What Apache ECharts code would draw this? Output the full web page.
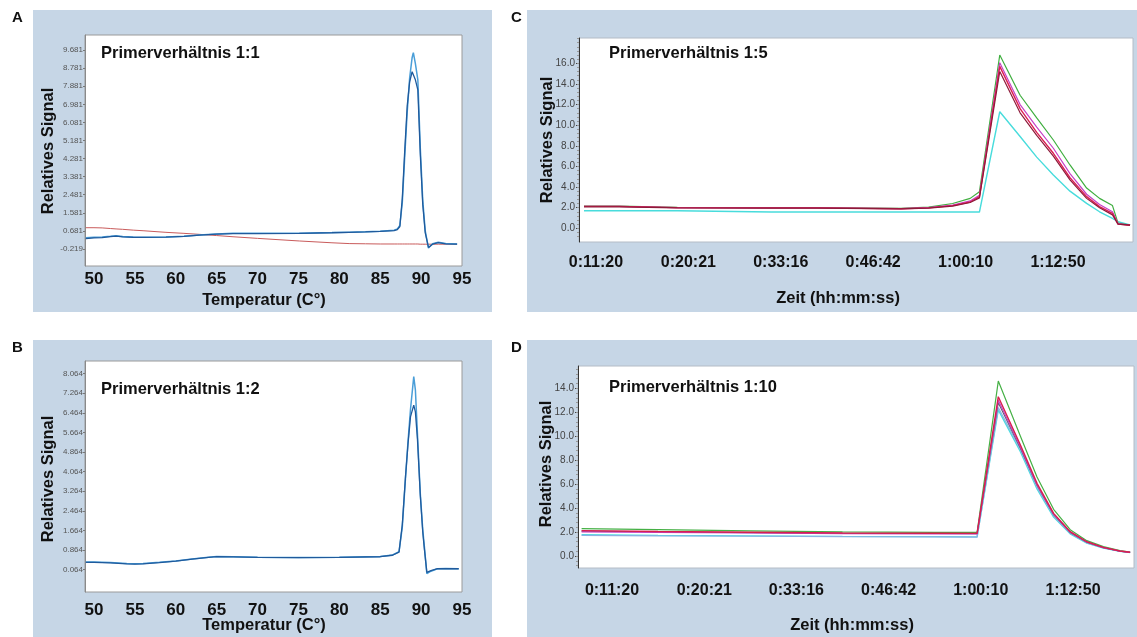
<!DOCTYPE html>
<html>
<head>
<meta charset="utf-8">
<script src="https://cdn.jsdelivr.net/npm/echarts@6/dist/echarts.min.js"></script>
<style>html,body{margin:0;padding:0;background:#fff}#c{width:1137px;height:637px}</style>
</head>
<body>
<div id="c"></div>
<script>
// ---------- Panel A: Primerverhältnis 1:1 (melt curve) ----------
const tempA = [49.0, 50, 51, 52, 52.7, 53.5, 54.8, 56, 58.8, 61, 62.9, 65, 67, 70, 75.1, 79.1, 81.2, 83.2, 85, 86.7, 87.1, 87.4, 87.7, 88.0, 88.3, 88.6, 88.9, 89.05, 89.3, 89.6, 89.9, 90.2, 90.5, 90.9, 91.4, 92.1, 93, 94.4];
const blueA1 = [0.34, 0.36, 0.38, 0.41, 0.44, 0.40, 0.38, 0.37, 0.38, 0.42, 0.48, 0.53, 0.56, 0.56, 0.57, 0.60, 0.62, 0.64, 0.67, 0.72, 0.78, 0.95, 2.1, 4.4, 6.6, 8.3, 9.3, 9.55, 9.0, 8.2, 4.8, 2.2, 0.7, -0.17, 0.04, 0.12, 0.06, 0.03];
const blueA2 = [0.30, 0.33, 0.35, 0.40, 0.42, 0.38, 0.36, 0.36, 0.37, 0.41, 0.47, 0.52, 0.55, 0.55, 0.56, 0.59, 0.61, 0.63, 0.66, 0.70, 0.75, 0.90, 2.3, 4.7, 6.9, 8.1, 8.6, 8.55, 8.2, 7.7, 4.5, 2.0, 0.6, -0.14, 0.02, 0.10, 0.04, 0.02];
const redA   = [0.84, 0.84, 0.83, 0.80, 0.78, 0.76, 0.72, 0.69, 0.61, 0.56, 0.51, 0.45, 0.39, 0.31, 0.18, 0.09, 0.05, 0.04, 0.03, 0.03, 0.03, 0.03, 0.03, 0.03, 0.03, 0.03, 0.03, 0.03, 0.03, 0.03, 0.02, 0.02, 0.02, 0.02, 0.02, 0.02, 0.02, 0.02];
const yTicksA = [-0.219, 0.681, 1.581, 2.481, 3.381, 4.281, 5.181, 6.081, 6.981, 7.881, 8.781, 9.681];

// ---------- Panel B: Primerverhältnis 1:2 ----------
const tempB = [49.0, 50, 52, 54, 55, 56, 58, 60, 62, 64, 65, 67, 70, 75, 80, 85, 86.5, 87.3, 87.7, 88.1, 88.4, 88.7, 89.1, 89.3, 89.55, 89.9, 90.2, 90.4, 90.7, 91.2, 92, 93, 94.6];
const blueB1 = [0.37, 0.37, 0.35, 0.31, 0.30, 0.31, 0.36, 0.42, 0.50, 0.57, 0.60, 0.59, 0.57, 0.56, 0.57, 0.60, 0.66, 0.80, 1.8, 3.85, 5.3, 6.6, 7.94, 7.4, 5.62, 3.17, 1.7, 1.0, -0.10, 0.0, 0.10, 0.11, 0.10];
const blueB2 = [0.36, 0.36, 0.34, 0.30, 0.29, 0.30, 0.35, 0.41, 0.49, 0.56, 0.59, 0.58, 0.56, 0.55, 0.56, 0.59, 0.65, 0.78, 1.9, 3.9, 5.2, 6.3, 6.78, 6.5, 5.4, 3.1, 1.6, 0.9, -0.05, 0.02, 0.10, 0.10, 0.10];
const yTicksB = [0.064, 0.864, 1.664, 2.464, 3.264, 4.064, 4.864, 5.664, 6.464, 7.264, 8.064];

const tempTicks = [50, 55, 60, 65, 70, 75, 80, 85, 90, 95];

// ---------- Panel C: Primerverhältnis 1:5 (x in tick-label positions) ----------
const timeLabels = ['0:11:20', '0:20:21', '0:33:16', '0:46:42', '1:00:10', '1:12:50'];
const posC = [-0.13, 0.25, 0.27, 0.88, 0.90, 1.9, 2.40, 2.42, 3.3, 3.6, 3.86, 4.05, 4.15, 4.37, 4.59, 4.77, 4.95, 5.13, 5.31, 5.45, 5.59, 5.65, 5.78];
const greenC   = [2.15, 2.15, 2.03, 2.02, 2.02, 2.0, 2.0, 1.93, 1.93, 2.05, 2.4, 2.9, 3.55, 16.8, 12.9, 10.7, 8.56, 6.14, 3.9, 2.9, 2.2, 0.5, 0.3];
const magentaC = [2.12, 2.12, 2.0, 2.0, 2.0, 1.98, 1.98, 1.9, 1.9, 2.0, 2.25, 2.65, 3.2, 16.06, 12.0, 9.8, 7.76, 5.3, 3.3, 2.3, 1.6, 0.45, 0.3];
const redC     = [2.12, 2.12, 2.0, 2.0, 2.0, 1.98, 1.98, 1.9, 1.9, 1.98, 2.2, 2.55, 3.07, 15.7, 11.6, 9.3, 7.27, 4.9, 3.07, 2.1, 1.45, 0.4, 0.3];
const darkredC = [2.08, 2.08, 1.97, 1.97, 1.97, 1.95, 1.95, 1.88, 1.88, 1.95, 2.15, 2.5, 2.95, 15.2, 11.2, 9.0, 7.0, 4.7, 2.9, 2.0, 1.3, 0.4, 0.3];
const cyanC    = [1.70, 1.70, 1.70, 1.70, 1.58, 1.58, 1.58, 1.58, 1.58, 1.58, 1.58, 1.58, 1.58, 11.3, 8.9, 6.9, 5.17, 3.6, 2.42, 1.6, 0.95, 0.64, 0.32];
const yTicksC = [0, 2, 4, 6, 8, 10, 12, 14, 16];

// ---------- Panel D: Primerverhältnis 1:10 ----------
const posD = [-0.33, 0.5, 1.5, 2.5, 3.5, 3.96, 4.19, 4.43, 4.61, 4.79, 4.97, 5.15, 5.33, 5.51, 5.62];
const greenD     = [2.28, 2.2, 2.1, 2.02, 1.98, 1.97, 14.6, 10.0, 6.6, 3.9, 2.2, 1.28, 0.78, 0.45, 0.33];
const redD       = [2.12, 2.05, 1.98, 1.92, 1.90, 1.89, 13.3, 9.27, 6.07, 3.56, 2.03, 1.19, 0.72, 0.42, 0.31];
const magentaD   = [2.02, 1.97, 1.92, 1.87, 1.85, 1.84, 13.0, 9.1, 5.95, 3.5, 2.0, 1.17, 0.70, 0.41, 0.30];
const grayD      = [2.08, 2.02, 1.95, 1.90, 1.88, 1.87, 12.8, 9.0, 5.9, 3.45, 1.97, 1.15, 0.69, 0.40, 0.30];
const lightblueD = [1.72, 1.68, 1.65, 1.62, 1.60, 1.58, 12.4, 8.9, 5.75, 3.35, 1.9, 1.10, 0.67, 0.40, 0.30];
const cyanD      = [1.78, 1.72, 1.68, 1.64, 1.62, 1.60, 12.2, 8.7, 5.6, 3.25, 1.85, 1.08, 0.66, 0.39, 0.29];
const yTicksD = [0, 2, 4, 6, 8, 10, 12, 14];

// ---------- helpers ----------
const FONT = '"Liberation Sans", Arial, sans-serif';
const zip = (xs, ys) => xs.map((x, i) => [x, ys[i]]);
const steps = (a, b, s) => { const r = []; for (let v = a; v <= b + 1e-9; v += s) r.push(+v.toFixed(3)); return r; };
const BG = '#c6d6e6';

function txt(text, x, y, size, opts) {
  opts = opts || {};
  return {
    type: 'text', x: x, y: y, z: 50, rotation: opts.rot || 0,
    style: {
      text: text, x: 0, y: 0, fill: '#111',
      font: 'bold ' + size + 'px ' + FONT,
      textAlign: opts.align || 'left', align: opts.align || 'left',
      textVerticalAlign: opts.va || 'middle', verticalAlign: opts.va || 'middle'
    }
  };
}
function rect(x, y, w, h) {
  return { type: 'rect', z: -10, shape: { x: x, y: y, width: w, height: h }, style: { fill: BG } };
}
function line(name, xi, yi, data, color, width) {
  return { name: name, type: 'line', xAxisIndex: xi, yAxisIndex: yi, data: data, showSymbol: false, symbol: 'none',
    lineStyle: { color: color, width: width || 1.3 }, itemStyle: { color: color }, silent: true };
}

function tempXAxis(grid, margin) {
  return { type: 'value', gridIndex: grid, min: 48.9, max: 95, position: 'bottom',
    axisLine: { show: false, onZero: false }, axisTick: { show: false }, splitLine: { show: false },
    axisLabel: { customValues: tempTicks, margin: margin, color: '#111', fontFamily: FONT, fontWeight: 'bold', fontSize: 17,
      formatter: v => String(Math.round(v)) } };
}
function smallYAxis(grid, min, max, ticks) {
  return { type: 'value', gridIndex: grid, min: min, max: max, position: 'left',
    axisLine: { show: true, onZero: false, lineStyle: { color: '#8a8a8a', width: 1 } },
    axisTick: { show: true, customValues: ticks, length: 2, lineStyle: { color: '#777' } },
    splitLine: { show: false },
    axisLabel: { customValues: ticks, margin: 2, color: '#555', fontFamily: FONT, fontSize: 8,
      formatter: v => v.toFixed(3) } };
}
function timeXAxis(grid, min, max, margin) {
  return { type: 'value', gridIndex: grid, min: min, max: max, position: 'bottom',
    axisLine: { show: false, onZero: false }, axisTick: { show: false }, splitLine: { show: false },
    axisLabel: { customValues: [0, 1, 2, 3, 4, 5], margin: margin, color: '#111', fontFamily: FONT, fontWeight: 'bold', fontSize: 16,
      formatter: v => timeLabels[Math.round(v)] } };
}
function sigYAxis(grid, min, max, ticks) {
  return { type: 'value', gridIndex: grid, min: min, max: max, position: 'left',
    axisLine: { show: true, onZero: false, lineStyle: { color: '#333', width: 1 } },
    axisTick: { show: true, customValues: ticks, length: 3, lineStyle: { color: '#444' } },
    splitLine: { show: false },
    axisLabel: { customValues: ticks, margin: 4, color: '#444', fontFamily: FONT, fontSize: 10,
      formatter: v => v.toFixed(1) } };
}
function minorYAxis(grid, min, max) {
  return { type: 'value', gridIndex: grid, min: min, max: max, position: 'left', offset: 0,
    axisLine: { show: false, onZero: false }, splitLine: { show: false }, axisLabel: { show: false },
    axisTick: { show: true, customValues: steps(-0.8, max, 0.4).filter(v => v >= min && v <= max), length: 2, lineStyle: { color: '#999' } } };
}

const gridBase = { show: true, backgroundColor: '#ffffff', borderWidth: 1, containLabel: false, outerBoundsMode: 'none' };

const option = {
  animation: false,
  backgroundColor: '#ffffff',
  graphic: { elements: [
    rect(33, 10, 459, 302), rect(33, 340, 459, 297), rect(527, 10, 610, 302), rect(527, 340, 610, 297),
    txt('A', 12, 18, 15), txt('B', 12, 348, 15), txt('C', 511, 18, 15), txt('D', 511, 348, 15),
    txt('Primerverhältnis 1:1', 101, 53, 16.5), txt('Primerverhältnis 1:2', 101, 389, 16.5),
    txt('Primerverhältnis 1:5', 609, 53, 16.5), txt('Primerverhältnis 1:10', 609, 387, 16.5),
    txt('Relatives Signal', 48, 151, 16.5, { rot: Math.PI / 2, align: 'center' }),
    txt('Relatives Signal', 48, 479, 16.5, { rot: Math.PI / 2, align: 'center' }),
    txt('Relatives Signal', 547, 140, 16.5, { rot: Math.PI / 2, align: 'center' }),
    txt('Relatives Signal', 546, 464, 16.5, { rot: Math.PI / 2, align: 'center' }),
    txt('Temperatur (C°)', 264, 300, 16.5, { align: 'center' }),
    txt('Temperatur (C°)', 264, 625, 16.5, { align: 'center' }),
    txt('Zeit (hh:mm:ss)', 838, 298, 16.5, { align: 'center' }),
    txt('Zeit (hh:mm:ss)', 852, 625, 16.5, { align: 'center' })
  ] },
  grid: [
    Object.assign({}, gridBase, { left: 85, top: 35, width: 377, height: 231, borderColor: '#9a9a9a' }),
    Object.assign({}, gridBase, { left: 85, top: 361, width: 377, height: 231, borderColor: '#9a9a9a' }),
    Object.assign({}, gridBase, { left: 579, top: 38, width: 554, height: 204, borderColor: '#b4bcc6' }),
    Object.assign({}, gridBase, { left: 578, top: 366, width: 556, height: 202, borderColor: '#b4bcc6' })
  ],
  xAxis: [
    tempXAxis(0, 5),
    tempXAxis(1, 10),
    timeXAxis(2, -0.184, 5.812, 13),
    timeXAxis(3, -0.369, 5.662, 15)
  ],
  yAxis: [
    smallYAxis(0, -1.065, 10.43, yTicksA),
    smallYAxis(1, -0.85, 8.58, yTicksB),
    sigYAxis(2, -1.33, 18.45, yTicksC),
    minorYAxis(2, -1.33, 18.45),
    sigYAxis(3, -1.0, 15.86, yTicksD),
    minorYAxis(3, -1.0, 15.86)
  ],
  series: [
    line('A rot', 0, 0, zip(tempA, redA), '#c95b5b', 1),
    line('A blau 1', 0, 0, zip(tempA, blueA1), '#4a9ed8', 1.5),
    line('A blau 2', 0, 0, zip(tempA, blueA2), '#1f5a9c', 1.3),
    line('B blau 1', 1, 1, zip(tempB, blueB1), '#4a9ed8', 1.5),
    line('B blau 2', 1, 1, zip(tempB, blueB2), '#1f5a9c', 1.3),
    line('C cyan', 2, 2, zip(posC, cyanC), '#48dcdc', 1.4),
    line('C grün', 2, 2, zip(posC, greenC), '#3fae3f', 1.2),
    line('C magenta', 2, 2, zip(posC, magentaC), '#c640c6', 1.2),
    line('C rot', 2, 2, zip(posC, redC), '#dc1f52', 1.4),
    line('C dunkelrot', 2, 2, zip(posC, darkredC), '#8e1a3a', 1.2),
    line('D cyan', 3, 4, zip(posD, cyanD), '#4cdbe0', 1.4),
    line('D hellblau', 3, 4, zip(posD, lightblueD), '#8cb2e2', 1.2),
    line('D grün', 3, 4, zip(posD, greenD), '#45b045', 1.2),
    line('D grau', 3, 4, zip(posD, grayD), '#5a6070', 1.1),
    line('D magenta', 3, 4, zip(posD, magentaD), '#c442c4', 1.2),
    line('D rot', 3, 4, zip(posD, redD), '#d81e4e', 1.4)
  ]
};

const chart = echarts.init(document.getElementById('c'), null, { renderer: 'canvas', width: 1137, height: 637 });
chart.setOption(option);
</script>
</body>
</html>
